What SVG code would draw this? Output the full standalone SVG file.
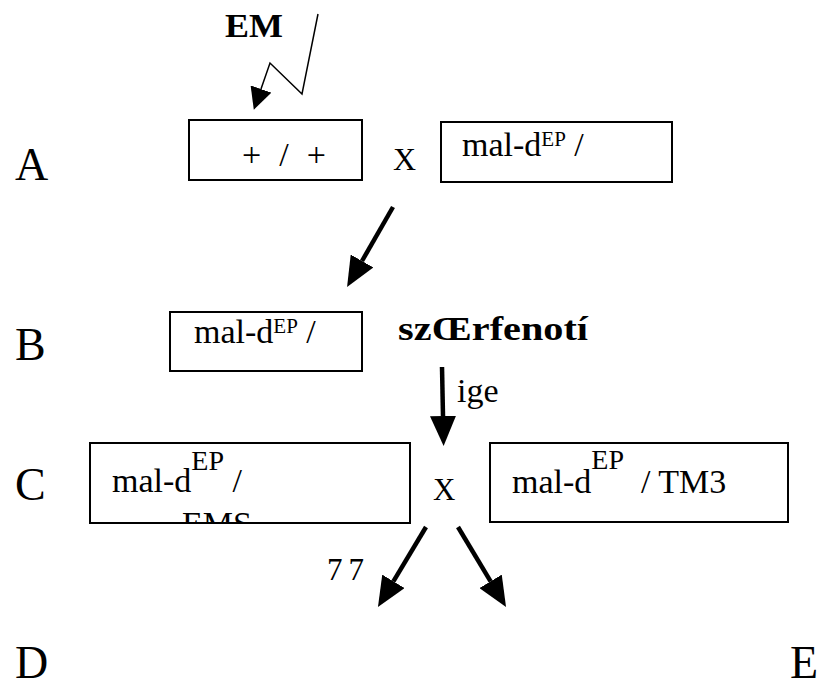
<svg xmlns="http://www.w3.org/2000/svg" width="823" height="680" viewBox="0 0 823 680">
<style>
.s{font-family:'Liberation Serif','Times New Roman',serif;fill:#000}
.big{font-size:46px}
.t{font-size:34px}
.b{font-size:34px;font-weight:bold}
.box{fill:#fff;stroke:#000;stroke-width:2}
.thick{stroke:#000;stroke-width:4.5;fill:none}
.thin{stroke:#000;stroke-width:1.5;fill:none}
</style>
<defs>
<marker id="head" viewBox="0 -13 30 26" refX="0" refY="0" markerWidth="30" markerHeight="26" markerUnits="userSpaceOnUse" orient="auto">
<path d="M0,-13 L30,0 L0,13 Z" fill="#000"/>
</marker>
<marker id="headS" viewBox="0 -11 22 22" refX="0" refY="0" markerWidth="22" markerHeight="22" markerUnits="userSpaceOnUse" orient="auto">
<path d="M0,-11 L22,0 L0,11 Z" fill="#000"/>
</marker>
<clipPath id="clipCL"><rect x="91" y="444" width="318" height="78"/></clipPath>
</defs>
<g id="labels">
<text class="s big" font-family="Liberation Serif, serif" x="15" y="180">A</text>
<text class="s big" font-family="Liberation Serif, serif" x="15" y="360">B</text>
<text class="s big" font-family="Liberation Serif, serif" x="15" y="500">C</text>
<text class="s big" font-family="Liberation Serif, serif" x="15" y="678">D</text>
<text class="s big" font-family="Liberation Serif, serif" x="790" y="678">E</text>
</g>
<g id="em">
<text class="s b" font-family="Liberation Serif, serif" x="225" y="37" textLength="58" lengthAdjust="spacingAndGlyphs">EM</text>
</g>
<g id="boxA1">
<rect class="box" x="189" y="120" width="173" height="60"/>
<text class="s" font-family="Liberation Serif, serif" style="font-size:34px" x="242" y="166" textLength="84">+ / +</text>
</g>
<g id="crossA">
<text class="s" font-family="Liberation Serif, serif" x="393" y="170" style="font-size:32px">X</text>
</g>
<g id="boxA2">
<rect class="box" x="441" y="122" width="231" height="60"/>
<text class="s t" font-family="Liberation Serif, serif" x="462" y="156">mal-d<tspan style="font-size:21px" dy="-10">EP</tspan><tspan dy="10"> /</tspan></text>
</g>
<g id="boxB">
<rect class="box" x="170" y="312" width="192" height="59"/>
<text class="s t" font-family="Liberation Serif, serif" x="194" y="343">mal-d<tspan style="font-size:21px" dy="-10">EP</tspan><tspan dy="10"> /</tspan></text>
</g>
<g id="pheno">
<text class="s b" font-family="Liberation Serif, serif" x="398" y="340" textLength="190" lengthAdjust="spacingAndGlyphs">szŒrfenotí</text>
<text class="s t" font-family="Liberation Serif, serif" x="457" y="402">ige</text>
</g>
<g id="boxC1">
<rect class="box" x="90" y="443" width="320" height="80"/>
<text class="s t" font-family="Liberation Serif, serif" x="112" y="492">mal-d<tspan style="font-size:28px" dy="-22">EP</tspan><tspan dy="22"> /</tspan></text>
<text class="s t" font-family="Liberation Serif, serif" x="182" y="535" clip-path="url(#clipCL)">EMS</text>
</g>
<g id="crossC">
<text class="s" font-family="Liberation Serif, serif" x="433" y="500" style="font-size:31px">X</text>
</g>
<g id="boxC2">
<rect class="box" x="490" y="443" width="298" height="79"/>
<text class="s t" font-family="Liberation Serif, serif" x="512" y="493">mal-d<tspan style="font-size:28px" dy="-24">EP</tspan><tspan dy="24" xml:space="preserve">  / TM3</tspan></text>
</g>
<g id="n77">
<text class="s" font-family="Liberation Serif, serif" x="327" y="580" style="font-size:31px;letter-spacing:6px">77</text>
</g>
<g id="connectors">
<polyline class="thin" points="318,14 302,94 270,63 261,89" marker-end="url(#headS)"/>
<line class="thick" x1="393" y1="207" x2="362" y2="261" marker-end="url(#head)"/>
<line class="thick" x1="442" y1="367" x2="443" y2="416" marker-end="url(#head)"/>
<line class="thick" x1="426" y1="527" x2="393.4" y2="581.3" marker-end="url(#head)"/>
<line class="thick" x1="458" y1="527" x2="490.6" y2="581.3" marker-end="url(#head)"/>
</g>
</svg>
